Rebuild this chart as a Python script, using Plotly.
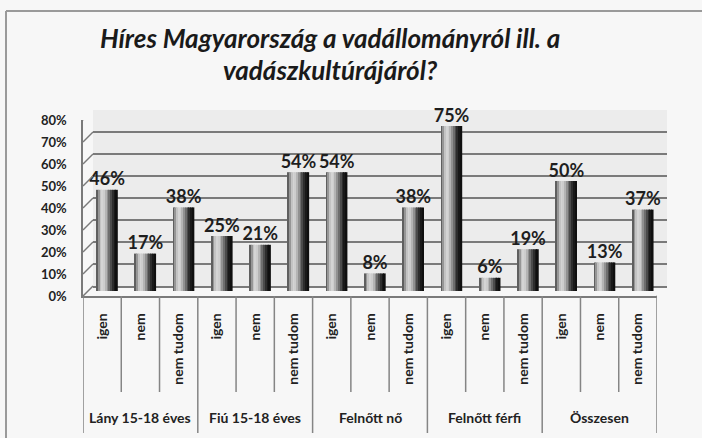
import plotly.graph_objects as go

W, H = 702, 438

groups = ["Lány 15-18 éves", "Fiú 15-18 éves", "Felnőtt nő", "Felnőtt férfi", "Összesen"]
answers = ["igen", "nem", "nem tudom"]
values = [0.46, 0.17, 0.38,
          0.25, 0.21, 0.54,
          0.54, 0.08, 0.38,
          0.75, 0.06, 0.19,
          0.50, 0.13, 0.37]
labels = ["46%", "17%", "38%", "25%", "21%", "54%", "54%", "8%", "38%",
          "75%", "6%", "19%", "50%", "13%", "37%"]
y_ticks = [0, 0.1, 0.2, 0.3, 0.4, 0.5, 0.6, 0.7, 0.8]

n = len(values)
xs = list(range(n))
ticktext = [answers[i % 3] for i in xs]

FONT = "Lato"
GRID = "#7a7a7a"

def px(x):
    return x / W

def py(y):
    return 1 - y / H

fig = go.Figure()

# back wall (grid) axes helper trace
fig.add_trace(go.Scatter(x=[0], y=[0], xaxis="x2", yaxis="y2", mode="markers",
                         marker=dict(opacity=0), hoverinfo="skip", showlegend=False))

# cylinder-like shaded bars built from narrow strips
shades = [95, 150, 195, 212, 205, 180, 145, 110, 75, 45, 25, 15]
bw = 0.55
ns = len(shades)
for i, s in enumerate(shades):
    fig.add_trace(go.Bar(
        x=xs, y=values, xaxis="x3", yaxis="y3",
        width=bw / ns + 0.004, offset=-bw / 2 + i * bw / ns,
        marker=dict(color=f"rgb({s},{s},{s})", line=dict(width=0)),
        hoverinfo="skip", showlegend=False))

# data labels
fig.add_trace(go.Scatter(
    x=xs, y=values, xaxis="x3", yaxis="y3", mode="text", text=labels,
    textposition="top center", cliponaxis=False,
    textfont=dict(family=FONT, size=18, color="#1e1e1e", weight="bold"),
    hoverinfo="skip", showlegend=False))

# main (front) axes helper trace
fig.add_trace(go.Scatter(x=xs, y=[0] * n, xaxis="x", yaxis="y", mode="markers",
                         marker=dict(opacity=0), hoverinfo="skip", showlegend=False))

shapes = []
# back wall fill
shapes.append(dict(type="rect", xref="x2 domain", yref="y2 domain", x0=0, x1=1, y0=0, y1=1,
                   fillcolor="#ececec", line=dict(width=0), layer="below"))
# left wall diagonals
for v in y_ticks:
    shapes.append(dict(type="line", xref="x", yref="y", xsizemode="pixel", ysizemode="pixel",
                       xanchor=-0.5, yanchor=v, x0=0, x1=10, y0=0, y1=10,
                       line=dict(color=GRID, width=1.5)))
# right floor diagonal
shapes.append(dict(type="line", xref="x", yref="y", xsizemode="pixel", ysizemode="pixel",
                   xanchor=n - 0.5, yanchor=0, x0=0, x1=10, y0=0, y1=10,
                   line=dict(color=GRID, width=1.5)))
# category dividers
for k in range(n + 1):
    xk = k - 0.5
    long_line = (k % 3 == 0)
    shapes.append(dict(type="line", xref="x", yref="paper", x0=xk, x1=xk,
                       y0=py(296), y1=py(433 if long_line else 392),
                       line=dict(color="#858585", width=1.5)))
# outer frame
shapes.append(dict(type="line", xref="paper", yref="paper", x0=px(6), x1=px(6), y0=py(11), y1=0,
                   line=dict(color="#9a9a9a", width=2)))
shapes.append(dict(type="line", xref="paper", yref="paper", x0=px(6), x1=1, y0=py(11), y1=py(11),
                   line=dict(color="#9a9a9a", width=2)))

annotations = []
for g, name in enumerate(groups):
    annotations.append(dict(x=g * 3 + 1, y=py(417), xref="x", yref="paper", text=name,
                            showarrow=False, yanchor="middle",
                            font=dict(family=FONT, size=14, color="#222", weight="bold")))
annotations.append(dict(x=px(330), y=py(38), xref="paper", yref="paper", xanchor="center",
                        text="<i>Híres Magyarország a vadállományról ill. a</i>",
                        showarrow=False, yanchor="middle",
                        font=dict(family=FONT, size=26, color="#1a1a1a", weight="bold")))
annotations.append(dict(x=px(330), y=py(70), xref="paper", yref="paper", xanchor="center",
                        text="<i>vadászkultúrájáról?</i>",
                        showarrow=False, yanchor="middle",
                        font=dict(family=FONT, size=26, color="#1a1a1a", weight="bold")))

fig.update_layout(
    template="none",
    width=W, height=H,
    margin=dict(l=0, r=0, t=0, b=0, pad=0, autoexpand=False),
    paper_bgcolor="#f7f7f7",
    plot_bgcolor="rgba(0,0,0,0)",
    showlegend=False,
    barmode="overlay",
    shapes=shapes,
    annotations=annotations,
    xaxis=dict(domain=[px(83), px(657)], range=[-0.5, n - 0.5], anchor="y", automargin=False,
               tickmode="array", tickvals=xs, ticktext=ticktext, tickangle=-90,
               ticks="", ticklabelstandoff=10, showgrid=False, zeroline=False,
               showline=True, linecolor=GRID, linewidth=1.5,
               tickfont=dict(family=FONT, size=14, color="#222", weight="bold")),
    yaxis=dict(domain=[py(296), py(120)], range=[0, 0.8], anchor="x", automargin=False,
               tickmode="array", tickvals=y_ticks, tickformat=".0%",
               ticks="", ticklabelstandoff=12, showgrid=False, zeroline=False,
               showline=True, linecolor=GRID, linewidth=1.5,
               tickfont=dict(family=FONT, size=13, color="#222", weight="bold")),
    xaxis2=dict(domain=[px(93), px(667)], range=[-0.5, n - 0.5], anchor="y2", automargin=False,
                showticklabels=False, ticks="", showgrid=False, zeroline=False,
                showline=True, linecolor=GRID, linewidth=1.5),
    yaxis2=dict(domain=[py(286), py(110)], range=[0, 0.8], anchor="x2", automargin=False,
                tickmode="array", tickvals=y_ticks, showticklabels=False, ticks="",
                showgrid=True, gridcolor=GRID, gridwidth=1.5, zeroline=False, showline=False),
    xaxis3=dict(domain=[px(88), px(662)], range=[-0.5, n - 0.5], anchor="y3", visible=False,
                automargin=False),
    yaxis3=dict(domain=[py(291), py(115)], range=[0, 0.8], anchor="x3", visible=False,
                automargin=False),
)

fig.write_html(
    "out.html",
    config={"displayModeBar": False},
    post_script="document.body.style.margin='0';document.body.style.overflow='hidden';",
)
